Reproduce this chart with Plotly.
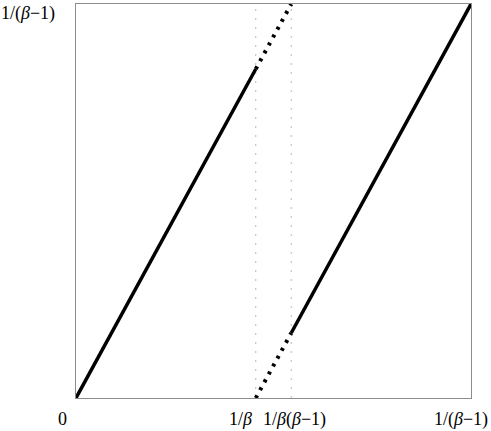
import plotly.graph_objects as go

# Map T(x) on [0, 1/(beta-1)], beta ~ 1.835
beta_inv = 0.545          # 1/beta
beta_b = 0.6526           # 1/(beta(beta-1))
x_max = 1.1976            # 1/(beta-1)

branch1_solid_x = [0.0, 0.545]
branch1_solid_y = [0.0, 1.0]
branch1_dot_x = [0.545, 0.6526]
branch1_dot_y = [1.0, 1.1976]
branch2_dot_x = [0.545, 0.6526]
branch2_dot_y = [0.0, 0.1976]
branch2_solid_x = [0.6526, 1.1976]
branch2_solid_y = [0.1976, 1.1976]

tick_vals = [0.0, 0.545, 0.6526, 1.1976]
tick_text = ["0", "1/<i>β</i>", "1/<i>β</i>(<i>β</i>−1)", "1/(<i>β</i>−1)"]
tick_shift = [-14, -15, 3, -10]
ytick_text = "1/(<i>β</i>−1)"

fig = go.Figure()
for xv in [beta_inv, beta_b]:
    fig.add_trace(go.Scatter(x=[xv, xv], y=[0, x_max], mode="lines",
                             line=dict(color="#b8b8b8", width=1, dash="2px,7px"),
                             hoverinfo="skip", showlegend=False))
fig.add_trace(go.Scatter(x=branch1_solid_x, y=branch1_solid_y, mode="lines",
                         line=dict(color="black", width=3.5), showlegend=False))
fig.add_trace(go.Scatter(x=branch2_solid_x, y=branch2_solid_y, mode="lines",
                         line=dict(color="black", width=3.5), showlegend=False))
for xs, ys in [(branch1_dot_x, branch1_dot_y), (branch2_dot_x, branch2_dot_y)]:
    fig.add_trace(go.Scatter(x=xs, y=ys, mode="lines",
                             line=dict(color="black", width=4, dash="3px,6px"),
                             showlegend=False))

font = dict(family="Liberation Serif", size=18, color="black")
for v, t, s in zip(tick_vals, tick_text, tick_shift):
    fig.add_annotation(x=v, y=0, xref="x", yref="y", text=t, showarrow=False,
                       xshift=s, yshift=-21, font=font, xanchor="center", yanchor="middle")
fig.add_annotation(x=0, y=x_max, xref="x", yref="y", text=ytick_text, showarrow=False,
                   xshift=-19, yshift=-9, font=font, xanchor="right", yanchor="middle")

axis = dict(range=[0, x_max], showgrid=False, zeroline=False, showticklabels=False,
            ticks="", showline=True, linecolor="#8c8c8c", linewidth=1, mirror=True)
fig.update_layout(
    width=491, height=431,
    margin=dict(l=76, r=20, t=4, b=33),
    paper_bgcolor="white", plot_bgcolor="white",
    xaxis=axis, yaxis=axis,
)
fig.write_html("out.html", config={"displayModeBar": False})

with open("out.html", "r", encoding="utf-8") as f:
    html = f.read()
html = html.replace("<body>", '<body style="margin:0;overflow:hidden">', 1)
with open("out.html", "w", encoding="utf-8") as f:
    f.write(html)
